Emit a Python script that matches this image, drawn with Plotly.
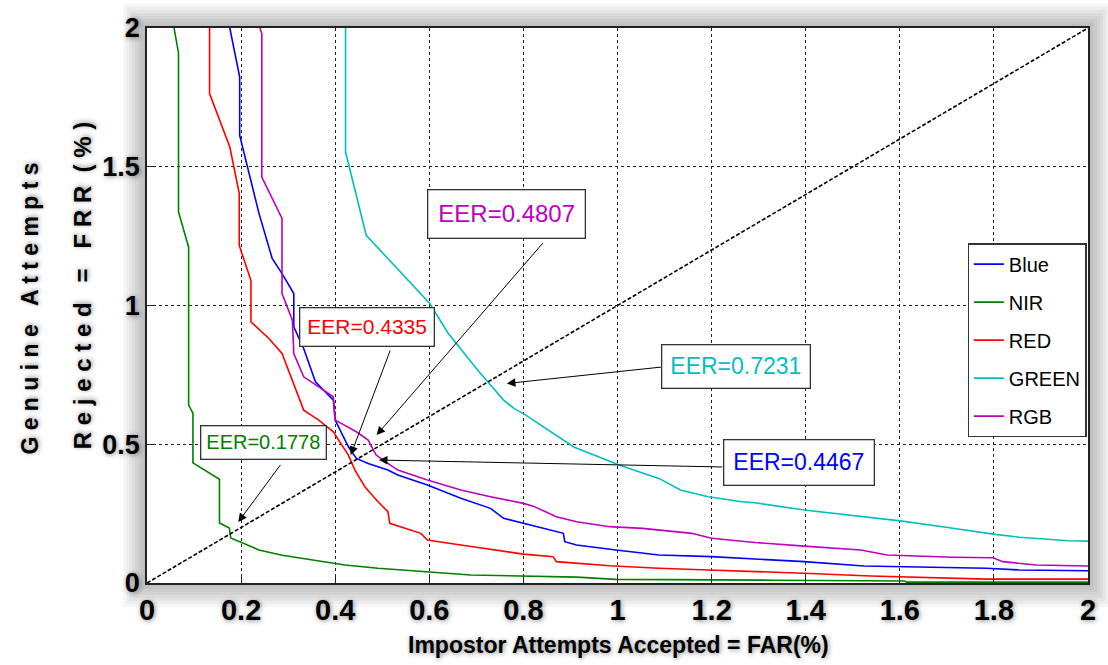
import plotly.graph_objects as go

# ---------------- data ----------------
blue_x = [0.176, 0.197, 0.197, 0.238, 0.266, 0.287, 0.312, 0.312, 0.333, 0.358, 0.396, 0.400,
          0.428, 0.445, 0.470, 0.512, 0.533, 0.596, 0.667, 0.730, 0.758, 0.800, 0.885, 0.888,
          0.913, 0.997, 1.088, 1.200, 1.292, 1.397, 1.524, 1.784, 1.854, 2.000]
blue_y = [2.000, 1.823, 1.613, 1.332, 1.170, 1.115, 1.043, 0.923, 0.845, 0.725, 0.659, 0.587,
          0.491, 0.449, 0.431, 0.407, 0.389, 0.353, 0.305, 0.269, 0.233, 0.215, 0.179, 0.149,
          0.137, 0.119, 0.101, 0.095, 0.086, 0.077, 0.061, 0.053, 0.047, 0.044]

nir_x = [0.0575, 0.067, 0.067, 0.0885, 0.0885, 0.0976, 0.0976, 0.154, 0.154, 0.175, 0.178,
         0.238, 0.287, 0.392, 0.421, 0.491, 0.596, 0.688, 0.913, 0.997, 1.334, 1.610, 1.615, 2.000]
nir_y = [2.000, 1.910, 1.337, 1.210, 0.641, 0.612, 0.433, 0.374, 0.216, 0.198, 0.162,
         0.119, 0.100, 0.072, 0.065, 0.053, 0.041, 0.029, 0.021, 0.013, 0.010, 0.007, 0.003, 0.003]

red_x = [0.133, 0.133, 0.176, 0.196, 0.196, 0.221, 0.221, 0.259, 0.287, 0.333, 0.365, 0.396,
         0.428, 0.442, 0.463, 0.491, 0.512, 0.516, 0.582, 0.596, 0.667, 0.800, 0.863, 0.870,
         0.983, 1.088, 1.193, 1.292, 1.397, 1.538, 1.664, 1.784, 2.000]
red_y = [2.000, 1.764, 1.571, 1.404, 1.217, 1.090, 0.941, 0.881, 0.827, 0.623, 0.587, 0.545,
         0.461, 0.407, 0.347, 0.293, 0.257, 0.215, 0.179, 0.155, 0.137, 0.104, 0.095, 0.077,
         0.062, 0.053, 0.047, 0.042, 0.035, 0.025, 0.019, 0.014, 0.014]

green_x = [0.422, 0.422, 0.466, 0.535, 0.601, 0.640, 0.670, 0.703, 0.758, 0.780, 0.805, 0.863,
           0.907, 1.005, 1.089, 1.135, 1.193, 1.264, 1.292, 1.397, 1.601, 1.713, 1.798, 1.854,
           1.959, 2.000]
green_y = [2.000, 1.553, 1.253, 1.127, 1.007, 0.900, 0.835, 0.767, 0.659, 0.629, 0.605, 0.539,
           0.490, 0.424, 0.376, 0.334, 0.311, 0.293, 0.289, 0.263, 0.224, 0.197, 0.176, 0.165,
           0.152, 0.151]

rgb_x = [0.240, 0.244, 0.244, 0.287, 0.287, 0.309, 0.312, 0.333, 0.365, 0.396, 0.400, 0.445,
         0.470, 0.487, 0.512, 0.533, 0.596, 0.667, 0.730, 0.800, 0.821, 0.870, 0.913, 0.983,
         1.053, 1.123, 1.158, 1.200, 1.264, 1.292, 1.397, 1.517, 1.573, 1.713, 1.798, 1.819,
         1.889, 2.000]
rgb_y = [2.000, 1.980, 1.463, 1.314, 1.043, 0.947, 0.827, 0.743, 0.707, 0.671, 0.587, 0.545,
         0.515, 0.461, 0.431, 0.407, 0.371, 0.335, 0.311, 0.287, 0.277, 0.239, 0.221, 0.203,
         0.197, 0.185, 0.179, 0.161, 0.149, 0.146, 0.133, 0.119, 0.101, 0.093, 0.091, 0.077,
         0.065, 0.061]

diag_x = [0, 2]
diag_y = [0, 2]

series_names = ["Blue", "NIR", "RED", "GREEN", "RGB"]
series_colors = ["#0000FF", "#008000", "#FF0000", "#00BFBF", "#BF00BF"]

x_ticks = [0, 0.2, 0.4, 0.6, 0.8, 1, 1.2, 1.4, 1.6, 1.8, 2]
x_tick_labels = ["0", "0.2", "0.4", "0.6", "0.8", "1", "1.2", "1.4", "1.6", "1.8", "2"]
y_ticks = [0, 0.5, 1, 1.5, 2]
y_tick_labels = ["0", "0.5", "1", "1.5", "2"]

# EER labels: text, colour, arrow tip (x, y), arrow tail (x, y), box centre (x, y)
eer_texts = ["EER=0.4807", "EER=0.4335", "EER=0.1778", "EER=0.7231", "EER=0.4467"]
eer_colors = ["#BF00BF", "#FF0000", "#008000", "#00BFBF", "#0000FF"]
eer_tip_x = [0.488, 0.433, 0.194, 0.765, 0.493]
eer_tip_y = [0.533, 0.461, 0.220, 0.719, 0.443]
eer_tail_x = [0.844, 0.518, 0.286, 1.098, 1.226]
eer_tail_y = [1.230, 0.843, 0.431, 0.779, 0.418]
eer_box_x = [0.765, 0.468, 0.247, 1.252, 1.385]
eer_box_y = [1.330, 0.924, 0.506, 0.780, 0.433]
eer_font = [24, 21, 20, 23, 23]
eer_pad = [10, 7, 5, 8, 9]

# ---------------- figure ----------------
FONT = "Liberation Sans, Arial, sans-serif"
SHADOW = "1px 1px 5px rgba(0,0,0,0.45)"

fig = go.Figure()
all_x = [blue_x, nir_x, red_x, green_x, rgb_x]
all_y = [blue_y, nir_y, red_y, green_y, rgb_y]
for name, col, xs, ys in zip(series_names, series_colors, all_x, all_y):
    fig.add_trace(go.Scatter(x=xs, y=ys, mode="lines", name=name, legendgroup=name,
                             line=dict(color=col, width=1.6)))

fig.add_trace(go.Scatter(x=diag_x, y=diag_y, mode="lines", showlegend=False,
                         line=dict(color="black", width=1.6, dash="4px,2px"),
                         hoverinfo="skip"))

annotations = []
for i in range(len(eer_texts)):
    annotations.append(dict(x=eer_tip_x[i], y=eer_tip_y[i], ax=eer_tail_x[i], ay=eer_tail_y[i],
                            xref="x", yref="y", axref="x", ayref="y", text="",
                            showarrow=True, arrowhead=2, arrowsize=1.7, arrowwidth=1,
                            arrowcolor="black", standoff=0, startstandoff=0))
for i in range(len(eer_texts)):
    annotations.append(dict(x=eer_box_x[i], y=eer_box_y[i], xref="x", yref="y",
                            text=eer_texts[i], showarrow=False,
                            font=dict(family=FONT, size=eer_font[i], color=eer_colors[i]),
                            bgcolor="white", bordercolor="#333333", borderwidth=1.3,
                            borderpad=eer_pad[i], xanchor="center", yanchor="middle"))

# axis titles
annotations.append(dict(x=0.501, y=-0.112, xref="paper", yref="paper",
                        text="Impostor Attempts Accepted = FAR(%)", showarrow=False,
                        font=dict(family=FONT, size=23, color="black", weight="bold",
                                  shadow=SHADOW),
                        xanchor="center", yanchor="middle"))
annotations.append(dict(x=-0.124, y=0.495, xref="paper", yref="paper",
                        text="G e n u i n e   A t t e m p t s", showarrow=False, textangle=-90,
                        font=dict(family=FONT, size=23, color="black", weight="bold",
                                  shadow=SHADOW),
                        xanchor="center", yanchor="middle"))
annotations.append(dict(x=-0.069, y=0.535, xref="paper", yref="paper",
                        text="R e j e c t e d   =   F R R  ( % )", showarrow=False, textangle=-90,
                        font=dict(family=FONT, size=24, color="black", weight="bold",
                                  shadow=SHADOW),
                        xanchor="center", yanchor="middle"))

# soft drop shadow around the plot frame
shapes = []
px_x = 1 / 950.0
px_y = 1 / 555.0
for k in range(1, 9):
    d = 3 * k
    x0o, x1o = -d * px_x, 1 + d * px_x
    y0o, y1o = -d * px_y, 1 + d * px_y
    path = (f"M {x0o},{y0o} L {x1o},{y0o} L {x1o},{y1o} L {x0o},{y1o} Z "
            f"M 0,0 L 1,0 L 1,1 L 0,1 Z")
    shapes.append(dict(type="path", xref="paper", yref="paper", path=path,
                       fillcolor="rgba(0,0,0,0.035)", line=dict(width=0),
                       fillrule="evenodd", layer="below"))

axis_common = dict(showline=True, mirror=True, linecolor="#222222", linewidth=1.5,
                   ticks="inside", ticklen=6, tickcolor="#222222",
                   showgrid=True, gridcolor="#222222", gridwidth=1, griddash="3px,3px",
                   zeroline=False)

fig.update_layout(
    width=1108, height=665,
    margin=dict(l=147, r=12, t=28, b=82),
    paper_bgcolor="white", plot_bgcolor="white",
    xaxis=dict(range=[0, 2], tickvals=x_ticks, ticktext=x_tick_labels,
               tickfont=dict(family=FONT, size=29, color="black", weight="bold",
                             shadow=SHADOW),
               **axis_common),
    yaxis=dict(range=[0, 2], tickvals=y_ticks, ticktext=y_tick_labels,
               tickfont=dict(family=FONT, size=27, color="black", weight="bold",
                             shadow=SHADOW),
               **axis_common),
    legend=dict(x=0.872, y=0.612, xanchor="left", yanchor="top",
                bgcolor="white", bordercolor="#333333", borderwidth=1.3,
                traceorder="grouped", tracegroupgap=9,
                font=dict(family=FONT, size=20, color="black")),
    annotations=annotations,
    shapes=shapes,
    showlegend=True,
)

fig.write_html("out.html")
